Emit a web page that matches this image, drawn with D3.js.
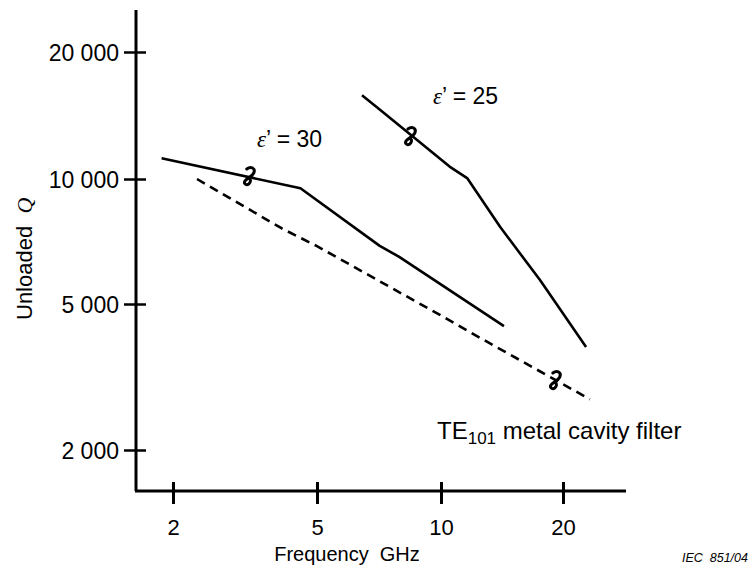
<!DOCTYPE html>
<html>
<head>
<meta charset="utf-8">
<script src="https://cdn.jsdelivr.net/npm/d3@7"></script>
<style>
  body { margin: 0; background: #fff; }
  svg { display: block; font-family: "Liberation Sans", Arial, sans-serif; }
</style>
</head>
<body>
<div id="chart"></div>
<script>
// values (frequency in GHz, unloaded Q)
const xTicks = [2, 5, 10, 20];
const yTicks = [2000, 5000, 10000, 20000];
const yTickLabels = ["2 000", "5 000", "10 000", "20 000"];

const eps30Freq = [1.86, 4.5, 7.1, 7.9, 14.3];
const eps30Q = [11200, 9500, 6900, 6500, 4350];

const eps25Freq = [6.43, 7.11, 10.5, 11.6, 14.0, 17.55, 22.8];
const eps25Q = [15800, 14600, 10700, 10050, 7660, 5710, 3820];

const cavityFreq = [2.33, 4.0, 5, 10, 12.5, 23.3];
const cavityQ = [10000, 7600, 6890, 4650, 4040, 2750];

// the little hand-drawn squiggles sitting on each curve
const markFreq = [3.26, 8.45, 19.2];
const markQ = [10165, 12645, 3103];

const width = 749, height = 572;

const svg = d3.select("#chart")
    .append("svg")
    .attr("width", width)
    .attr("height", height);

svg.append("rect").attr("width", width).attr("height", height).attr("fill", "#fff");

// the scan is not a perfect log grid, so map tick to tick
const x = d3.scaleLog().domain(xTicks).range([173, 317, 441, 563]);
const y = d3.scaleLog().domain(yTicks).range([450, 304, 179, 52]);

const axisX = 136, axisY = 491;

// axis lines
svg.append("line")
    .attr("x1", axisX).attr("x2", axisX)
    .attr("y1", 10).attr("y2", axisY)
    .attr("stroke", "#000").attr("stroke-width", 3);
svg.append("line")
    .attr("x1", axisX - 1).attr("x2", 626)
    .attr("y1", axisY).attr("y2", axisY)
    .attr("stroke", "#000").attr("stroke-width", 3);

// y axis ticks + labels
const gy = svg.append("g")
    .attr("transform", `translate(${axisX},0)`)
    .call(d3.axisLeft(y)
        .tickValues(yTicks)
        .tickFormat((d, i) => yTickLabels[i])
        .tickSize(0));
gy.select(".domain").remove();
gy.selectAll(".tick line")
    .attr("x1", -12).attr("x2", 10)
    .attr("stroke", "#000").attr("stroke-width", 2.5);
gy.selectAll(".tick text")
    .attr("x", -17)
    .attr("dy", "0.36em")
    .attr("font-size", 23)
    .attr("font-family", "Liberation Sans, Arial, sans-serif")
    .attr("fill", "#000");

// x axis ticks + labels
const gx = svg.append("g")
    .attr("transform", `translate(0,${axisY})`)
    .call(d3.axisBottom(x)
        .tickValues(xTicks)
        .tickFormat(d3.format("d"))
        .tickSize(0));
gx.select(".domain").remove();
gx.selectAll(".tick line")
    .attr("y1", -9).attr("y2", 13)
    .attr("stroke", "#000").attr("stroke-width", 3);
gx.selectAll(".tick text")
    .attr("y", 44)
    .attr("dy", 0)
    .attr("font-size", 22)
    .attr("font-family", "Liberation Sans, Arial, sans-serif")
    .attr("fill", "#000");

// curves
const line = d3.line()
    .x(d => x(d[0]))
    .y(d => y(d[1]));

const series = [
    { freq: eps30Freq, q: eps30Q, dash: null },
    { freq: eps25Freq, q: eps25Q, dash: null },
    { freq: cavityFreq, q: cavityQ, dash: "9,6" }
];

series.forEach(s => {
    svg.append("path")
        .datum(s.freq.map((f, i) => [f, s.q[i]]))
        .attr("d", line)
        .attr("fill", "none")
        .attr("stroke", "#000")
        .attr("stroke-width", 2.6)
        .attr("stroke-linejoin", "round")
        .attr("stroke-dasharray", s.dash);
});

// squiggle marks
svg.selectAll(".mark")
    .data(markFreq.map((f, i) => [f, markQ[i]]))
    .enter()
    .append("path")
    .attr("class", "mark")
    .attr("transform", d => `translate(${x(d[0])},${y(d[1])})`)
    .attr("d", "M-3,-7 C1,-10 6,-8 4,-3 C2,1 -2,2 -4,4 C-7,7 -4,10 -1,8 C1,6 1,4 0,3")
    .attr("fill", "none")
    .attr("stroke", "#000")
    .attr("stroke-width", 3)
    .attr("stroke-linecap", "round");

// labels
const eps30Label = svg.append("text")
    .attr("x", 257).attr("y", 147)
    .attr("font-size", 23);
eps30Label.append("tspan").attr("font-family", "Liberation Serif, serif").attr("font-style", "italic").text("ε");
eps30Label.append("tspan").text("’ = 30");

const eps25Label = svg.append("text")
    .attr("x", 433).attr("y", 104)
    .attr("font-size", 23);
eps25Label.append("tspan").attr("font-family", "Liberation Serif, serif").attr("font-style", "italic").text("ε");
eps25Label.append("tspan").text("’ = 25");

const teLabel = svg.append("text")
    .attr("x", 437).attr("y", 439)
    .attr("font-size", 24);
teLabel.append("tspan").text("TE");
teLabel.append("tspan").attr("font-size", 17).attr("dy", 5).text("101");
teLabel.append("tspan").attr("dy", -5).text(" metal cavity filter");

svg.append("text")
    .attr("x", 347).attr("y", 561)
    .attr("text-anchor", "middle")
    .attr("font-size", 20)
    .attr("xml:space", "preserve")
    .text("Frequency  GHz");

const yLabel = svg.append("text")
    .attr("transform", "translate(32,320) rotate(-90)")
    .attr("font-size", 22)
    .attr("xml:space", "preserve");
yLabel.append("tspan").text("Unloaded  ");
yLabel.append("tspan").attr("font-family", "Liberation Serif, serif").attr("font-style", "italic").text("Q");

svg.append("text")
    .attr("x", 748).attr("y", 562)
    .attr("text-anchor", "end")
    .attr("font-size", 12.5)
    .attr("font-style", "italic")
    .attr("xml:space", "preserve")
    .text("IEC  851/04");
</script>
</body>
</html>
